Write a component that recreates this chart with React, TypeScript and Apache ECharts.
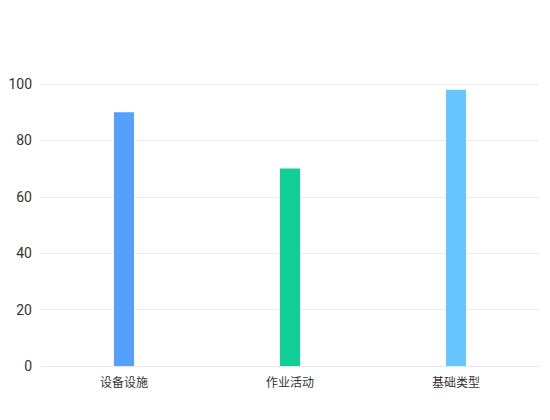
import React, { useEffect, useRef } from "react";
import * as echarts from "echarts";

const categories = ["设备设施", "作业活动", "基础类型"];
const values = [90, 70, 98];
const barColors = ["#559fff", "#0fcf96", "#66c6ff"];

const App: React.FC = () => {
  const chartRef = useRef<HTMLDivElement>(null);

  useEffect(() => {
    document.body.style.margin = "0";
    if (!chartRef.current) return;
    const chart = echarts.init(chartRef.current, null, { renderer: "svg" });

    const option = {
      animation: false,
      grid: { left: 41, right: 11, top: 84, bottom: 54 },
      xAxis: {
        type: "category",
        data: categories,
        axisTick: { show: false },
        axisLine: { lineStyle: { color: "#e8e8e8" } },
        axisLabel: {
          color: "#333",
          fontSize: 12,
          margin: 9,
          fontFamily: "Noto Sans CJK SC",
        },
      },
      yAxis: {
        type: "value",
        min: 0,
        max: 100,
        interval: 20,
        axisLine: { show: false },
        axisTick: { show: false },
        splitLine: { lineStyle: { color: "#ececec" } },
        axisLabel: {
          color: "#333",
          fontSize: 14,
          margin: 9,
          fontFamily: "Roboto",
        },
      },
      series: [
        {
          type: "bar",
          barWidth: 20,
          data: values.map((v, i) => ({
            value: v,
            itemStyle: { color: barColors[i] },
          })),
        },
      ],
    };

    chart.setOption(option);

    return () => {
      chart.dispose();
    };
  }, []);

  return <div ref={chartRef} style={{ width: "550px", height: "420px" }} />;
};

export default App;
